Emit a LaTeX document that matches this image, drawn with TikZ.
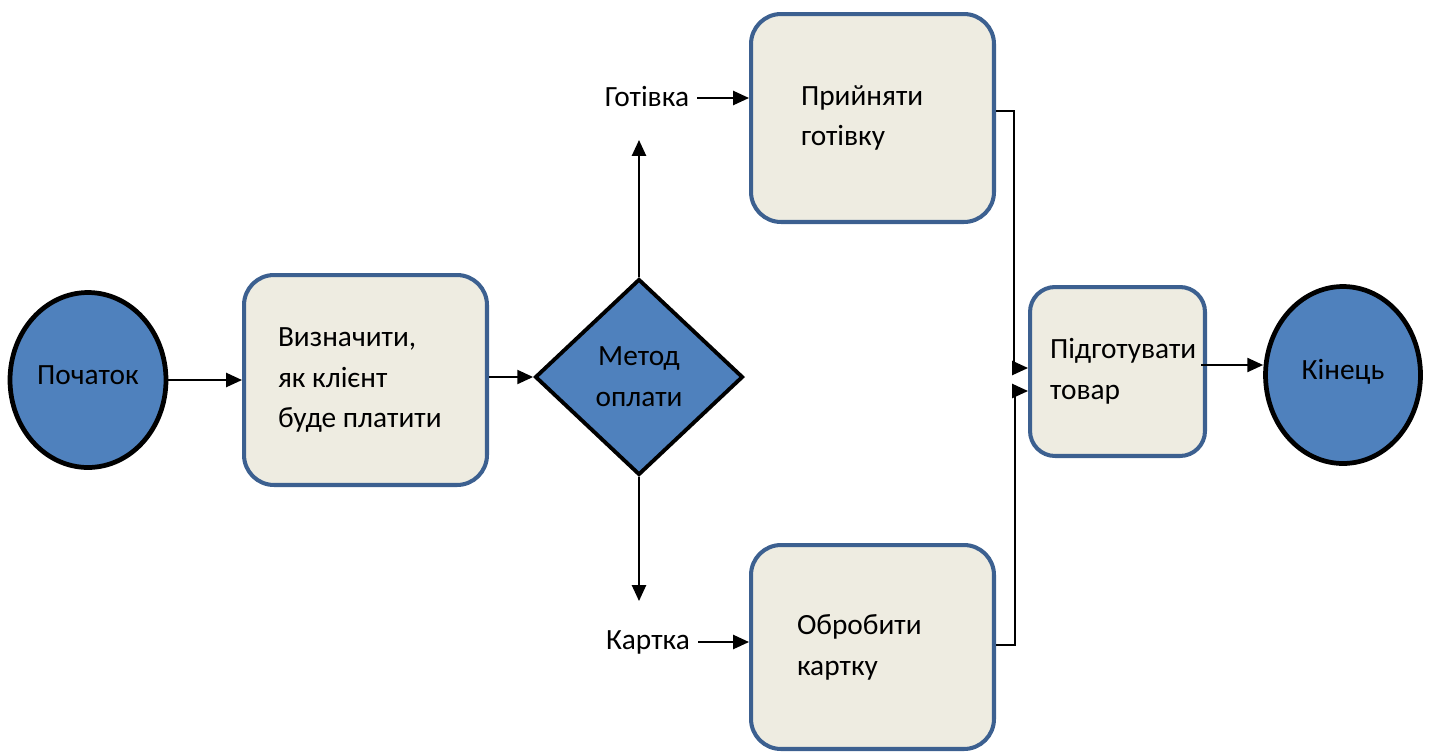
\documentclass[tikz,border=0pt]{standalone}
\usepackage{fontspec}
\setmainfont{Carlito}
\usetikzlibrary{shapes.geometric,arrows.meta,calc}
\definecolor{blu}{HTML}{4F81BD}
\definecolor{bord}{HTML}{3C6090}
\definecolor{beige}{HTML}{EEECE1}
\begin{document}
\begin{tikzpicture}[x=0.02cm,y=-0.02cm,
  txt/.style={font=\fontsize{16.7pt}{23.2pt}\selectfont},
  term/.style={ellipse,draw=black,line width=2.7pt,fill=blu,inner sep=0pt,txt},
  proc/.style={rectangle,draw=bord,line width=2.3pt,fill=beige,rounded corners=0.6cm,align=flush left,txt,inner ysep=0pt},
  dec/.style={diamond,draw=black,line width=2.2pt,fill=blu,inner sep=0pt,align=flush center,txt},
  arr/.style={line width=1.1pt,-{Triangle[length=9pt,width=8pt]}},
  lbl/.style={inner sep=0pt,txt}]
\useasboundingbox (0,0) rectangle (1429,751);
\node[term,minimum width=3.12cm,minimum height=3.5cm] (start) at (88,380) {\raisebox{6pt}{Початок}};
\node[proc,minimum width=4.86cm,minimum height=4.2cm,text width=3.5cm,inner xsep=0.68cm] (b1) at (365.5,380) {Визначити,\\як клієнт\\буде платити};
\node[dec,minimum width=4.16cm,minimum height=3.92cm] (d) at (639,377) {Метод\\оплати};
\node[proc,minimum width=4.86cm,minimum height=4.16cm,text width=2.86cm,inner xsep=1.0cm] (b2) at (872.5,118) {\raisebox{3pt}{\parbox{2.86cm}{Прийняти\\готівку}}};
\node[proc,minimum width=4.86cm,minimum height=4.08cm,text width=3.02cm,inner xsep=0.92cm] (b3) at (872.5,647) {Обробити\\картку};
\node[proc,minimum width=3.5cm,minimum height=3.38cm,text width=2.7cm,inner xsep=0.4cm,rounded corners=0.5cm] (b4) at (1117.5,371.5) {Підготувати\\товар};
\node[term,minimum width=3.1cm,minimum height=3.54cm] (endn) at (1343,375) {\raisebox{6pt}{Кінець}};
\node[lbl] (g) at (647,97) {Готівка};
\node[lbl] (k) at (648,642) {Картка};
\coordinate (up) at (639,140);
\coordinate (dn) at (639,601);
\draw[arr] (start) -- (b1);
\draw[arr] (b1.east |- d) -- (d.west);
\draw[arr] (d.north) -- (up);
\draw[arr] (d.south) -- (dn);
\draw[arr] ($(g.east)+(8,1)$) -- ($(g.east -| b2.west)+(0,1)$);
\draw[arr] ($(k.east)+(8,0)$) -- (k.east -| b3.west);
\draw[arr] ($(b2.east)+(0,-7)$) -- ++(18,0) |- ($(b4.west)+(0,-3.5)$);
\draw[arr] ($(b3.east)+(0,-2)$) -- ++(19,0) |- ($(b4.west)+(0,19.5)$);
\draw[arr] ($(b4.east)+(-6,-6.5)$) coordinate (q) -- (q -| endn.west);
\end{tikzpicture}
\end{document}
